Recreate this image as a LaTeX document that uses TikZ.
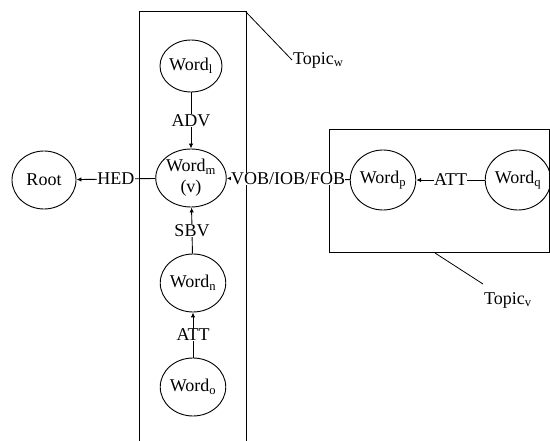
\documentclass[tikz,border=0pt]{standalone}
\usepackage{fontspec}
\setmainfont{Liberation Serif}
\usepackage{tikz}
\usetikzlibrary{arrows.meta,positioning,calc,shapes.geometric}

\begin{document}
\begin{tikzpicture}[x=1pt,y=-1pt,>={Latex[length=5pt,width=4.5pt]},
    font=\fontsize{18}{19}\selectfont,
    word/.style={ellipse,draw,line width=0.9pt,inner sep=0pt,minimum width=64pt,minimum height=58pt,align=center},
    rel/.style={fill=white,inner sep=0.5pt},
    link/.style={line width=0.9pt}]
  \useasboundingbox (0,0) rectangle (550,441);
  % topic frames
  \draw[line width=1pt] (139,445) |- (246,12) -- (246,445);
  \draw[line width=1pt] (551,130) -| (329,253) -- (551,253);
  \draw[line width=1pt] (549,130) -- (549,253);
  \coordinate (cw) at (246,12);
  \coordinate (cv) at (435,253);
  \node[anchor=west,inner sep=1pt] (tw) at (292,60) {Topic\textsubscript{w}};
  \node[anchor=west,inner sep=1pt] (tv) at (483,300) {Topic\textsubscript{v}};
  \draw[line width=0.8pt] (cw) -- (tw.west);
  \draw[line width=0.8pt] (cv) -- ($(tv.west)+(0,-16)$);
  % words
  \node[word] (root) at (44,180) {Root};
  \node[word,minimum width=62pt,minimum height=52pt] (wl) at (191,66) {Word\textsubscript{l}};
  \node[word,font=\fontsize{18}{21}\selectfont] (wm) at (191,178) {Word\textsubscript{m}\\(v)};
  \node[word] (wn) at (193,283) {Word\textsubscript{n}};
  \node[word] (wo) at (193,387) {Word\textsubscript{o}};
  \node[word,minimum width=60pt,minimum height=60pt] (wp) at (383,180) {Word\textsubscript{p}};
  \node[word,minimum width=60pt,minimum height=60pt] (wq) at (518,180) {Word\textsubscript{q}};
  % relations
  \draw[link,->] (wl) -- node[rel] {ADV} (wm);
  \draw[link,->] (wn) -- node[rel] {SBV} (wm);
  \draw[link,->] (wo) -- node[rel] {ATT} (wn);
  \draw[link,->] (wm) -- node[rel] {HED} (root);
  \draw[link,->] (wp) -- node[rel,inner sep=0pt] {VOB/IOB/FOB} (wm);
  \draw[link,->] (wq) -- node[rel] {ATT} (wp);
\end{tikzpicture}
\end{document}
